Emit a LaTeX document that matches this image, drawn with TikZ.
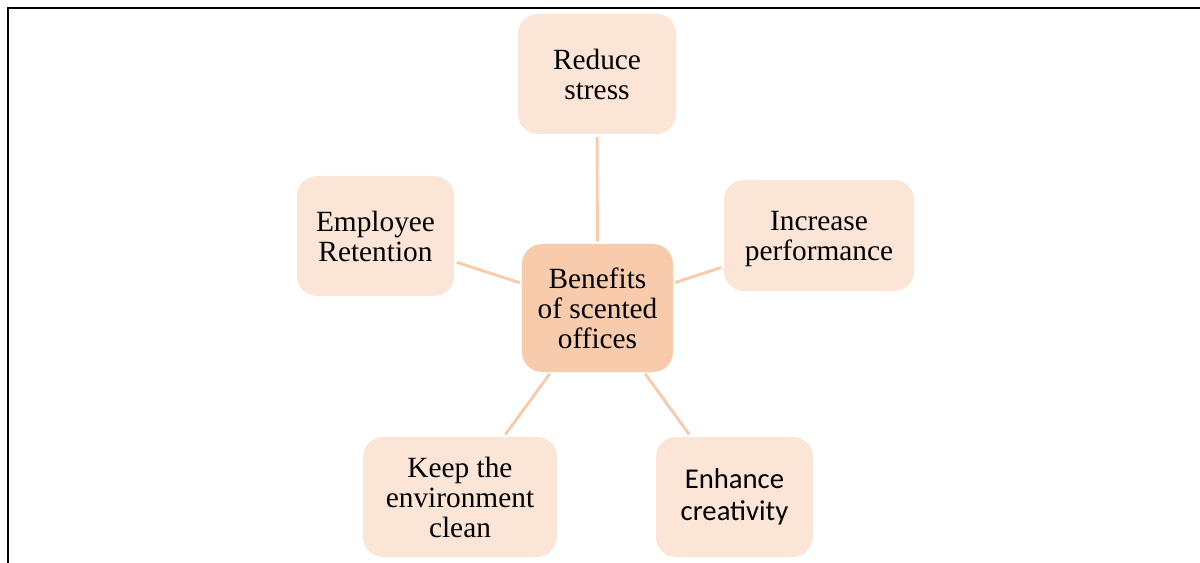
\documentclass[tikz,border=0pt]{standalone}
\usepackage{fontspec}
\setmainfont{Liberation Serif}
\newfontfamily\calibrifont{Carlito}
\definecolor{petal}{HTML}{FBE5D6}
\definecolor{peach}{HTML}{F8CBAD}
\begin{document}
\begin{tikzpicture}[x=0.75pt,y=-0.75pt,
  sz/.style 2 args={minimum width=#1*0.75pt, minimum height=#2*0.75pt},
  box/.style={rectangle, rounded corners=15pt, fill=petal, draw=none,
    align=center, inner sep=0pt, text=black,
    font=\fontsize{22}{22.5}\selectfont},
  hubbox/.style={box, fill=peach},
  link/.style={draw=peach, line width=2.2pt, shorten <=1.5pt, shorten >=2pt}]
\useasboundingbox (0,0) rectangle (1200,563);

% frame lines
\draw[line width=2.2pt, line cap=rect] (8,563) -- (8,8) -- (1200,8);

% central idea
\node[hubbox, sz={151}{128}] (hub) at (597.5,308) {Benefits\\of scented\\offices};

% surrounding ideas
\node[box, sz={158}{120}] (reduce) at (597,74) {Reduce\\stress};
\node[box, sz={157}{120}] (retain) at (375.5,236) {Employee\\Retention};
\node[box, sz={190}{111}, text depth=0pt] (perform) at (819,235.5) {Increase\\performance};
\node[box, sz={194}{120}] (clean) at (460,497) {Keep the\\environment\\clean};
\node[box, sz={157}{120}, font=\calibrifont\fontsize{21.5}{24}\selectfont] (create) at (734.5,497) {Enhance\\creativity};

% connectors
\draw[link] (hub) -- (reduce);
\draw[link] (hub) -- (retain);
\draw[link] (hub) -- (perform);
\draw[link] (hub) -- (clean);
\draw[link] (hub) -- (create);
\end{tikzpicture}
\end{document}
